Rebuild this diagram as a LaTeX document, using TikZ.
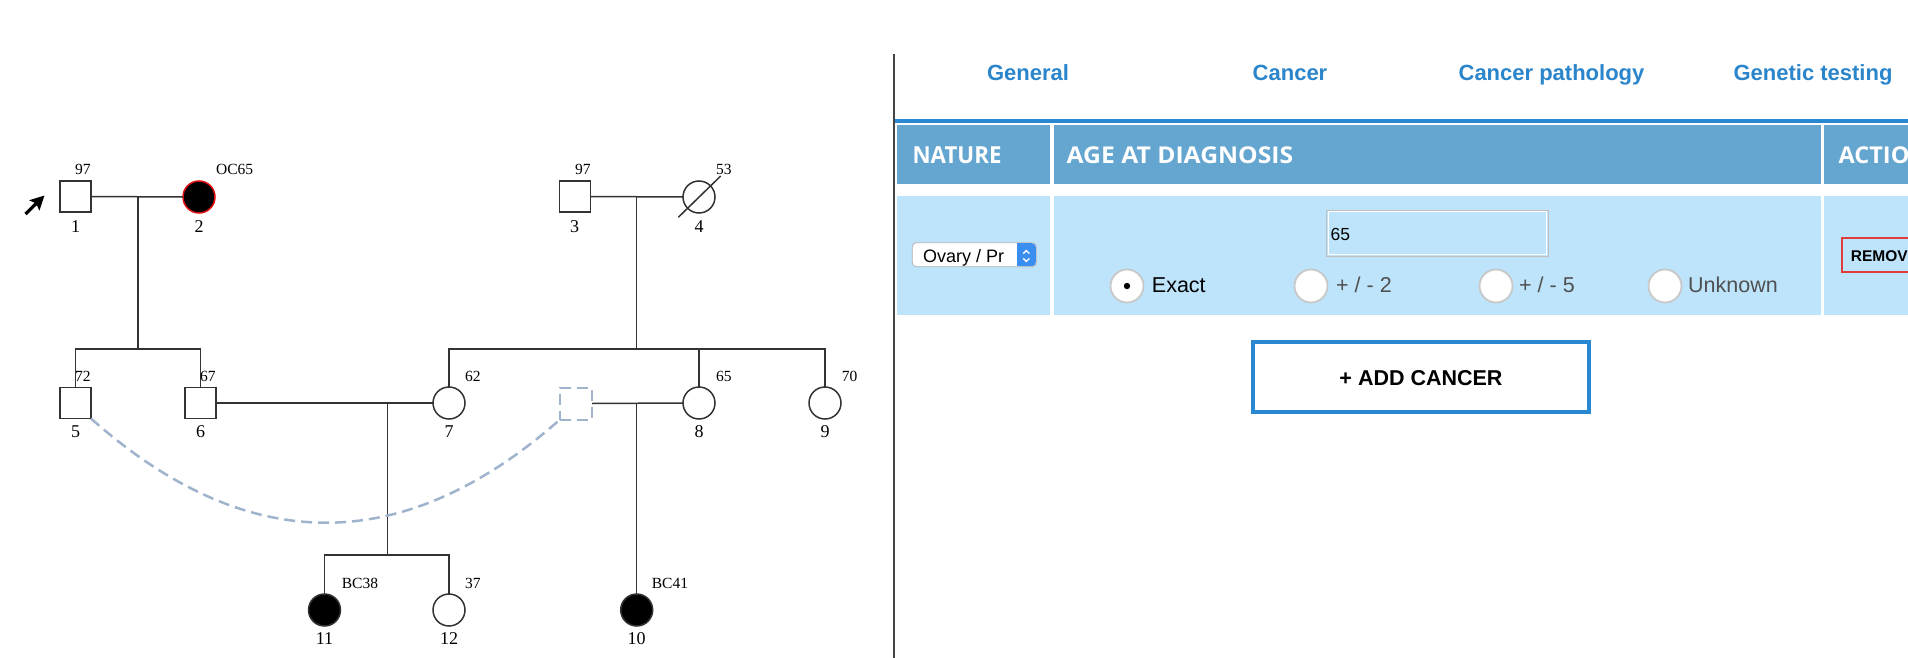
\documentclass[tikz,border=0pt]{standalone}
\usepackage{fontspec}
\setmainfont{Liberation Serif}
\newfontfamily\uisans{Liberation Sans}
\newfontfamily\hdrfont{Open Sans}
\usetikzlibrary{arrows.meta}
\definecolor{pedline}{HTML}{333333}
\definecolor{dashblue}{HTML}{9FB4CC}
\definecolor{tabblue}{HTML}{2A85CB}
\definecolor{hdrblue}{HTML}{64A6CF}
\definecolor{rowblue}{HTML}{BDE4FB}
\definecolor{linkblue}{HTML}{2A88D0}
\definecolor{radiogray}{HTML}{C8C8C8}
\definecolor{selblue}{HTML}{3A8EEF}
\definecolor{remred}{HTML}{E03C3C}
\definecolor{sepgray}{HTML}{444444}
\definecolor{affred}{HTML}{E01010}
\definecolor{optgray}{HTML}{505050}
\newcommand{\hdrbox}[2]{\resizebox{#1}{16.8pt}{\hdrfont\bfseries #2}}
\begin{document}
\begin{tikzpicture}[x=1pt,y=-1pt,
  male/.style={rectangle, draw=pedline, line width=1.5pt, fill=white, minimum size=31pt, inner sep=0pt, outer sep=0pt},
  female/.style={circle, draw=pedline, line width=1.5pt, fill=white, minimum size=32pt, inner sep=0pt, outer sep=0pt},
  affected/.style={fill=black},
  virtual/.style={rectangle, draw=dashblue, line width=2pt, dash pattern=on 11pt off 6pt, fill=white, minimum size=32pt, inner sep=0pt, outer sep=0pt},
  pedl/.style={draw=pedline, line width=1.5pt},
  dashcurve/.style={draw=dashblue, line width=2.5pt, dash pattern=on 11pt off 6pt},
  agel/.style={anchor=base west, inner sep=0pt, font=\fontsize{15.5}{18}\selectfont},
  idl/.style={anchor=base, inner sep=0pt, font=\fontsize{18}{20}\selectfont},
  tabtxt/.style={anchor=base, inner sep=0pt, text=tabblue, font=\uisans\bfseries\fontsize{22}{26}\selectfont},
  hdrtxt/.style={anchor=base west, inner sep=0pt, text=white},
  radio/.style={circle, draw=radiogray, line width=1.8pt, fill=white, minimum size=33pt, inner sep=0pt},
  radiotxt/.style={anchor=base west, inner sep=0pt, font=\uisans\fontsize{21.5}{25}\selectfont},
]
\useasboundingbox (0,0) rectangle (1908,658);
\clip (0,0) rectangle (1908,658);
\fill[white] (0,0) rectangle (1908,658);

% ---------------- pedigree ----------------
\node[male] (n1) at (75.5,196.5) {};
\node[female, affected, draw=affred] (n2) at (199,197) {};
\node[male] (n3) at (575,196.5) {};
\node[female] (n4) at (699,197) {};
\node[male] (n5) at (75.5,403) {};
\node[male] (n6) at (200.5,403) {};
\node[female] (n7) at (449,403) {};
\node[virtual] (nX) at (576,403.5) {};
\node[female] (n8) at (699,403) {};
\node[female] (n9) at (825,403) {};
\node[female, affected] (n11) at (324.5,610) {};
\node[female] (n12) at (449,610) {};
\node[female, affected] (n10) at (636.7,610) {};

% deceased slash
\draw[pedl] ([shift={(-20.7,20.3)}]n4.center) -- ([shift={(21.7,-21)}]n4.center);

% proband arrow
\coordinate (arrtail) at (25.5,214);
\coordinate (arrtip) at (44.5,195.5);
\draw[line width=3.2pt, -{Stealth[length=14pt,width=14pt,inset=2.5pt]}] (arrtail) -- (arrtip);

% couple and sibship lines
\coordinate (m12) at (138,197);
\coordinate (sib1) at (138,349);
\coordinate (m34) at (636.7,197);
\coordinate (sib2) at (636.7,349);
\coordinate (m67) at (387.3,403);
\coordinate (sib3) at (387.3,555);
\coordinate (mX8) at (636.7,403);

\draw[pedl] (n1.east) -- (n2.west);
\draw[pedl] (m12) -- (sib1);
\draw[pedl] (n5.north) |- (sib1) -| (n6.north);

\draw[pedl] (n3.east) -- (n4.west);
\draw[pedl] (m34) -- (sib2);
\draw[pedl] (n7.north) |- (sib2) -| (n9.north);
\draw[pedl] (n8.north) -- (n8.north |- sib2);

\draw[pedl] (n6.east) -- (n7.west);
\draw[pedl] (m67) -- (sib3);
\draw[pedl] (n11.north) |- (sib3) -| (n12.north);

\draw[pedl] (nX.east) -- (n8.west);
\draw[pedl] (mX8) -- (n10.north);

% dashed arc
\draw[dashcurve] (n5.south east) .. controls (247.3,557.3) and (403.7,557.3) .. (nX.south west);

% labels
\node[agel] (a1) at (75,174.3) {97};
\node[agel] (a2) at (216,174.3) {OC65};
\node[agel] (a3) at (575,174.3) {97};
\node[agel] (a4) at (716,174.3) {53};
\node[agel] (a5) at (75,381.2) {72};
\node[agel] (a6) at (200,381.2) {67};
\node[agel] (a7) at (465,381.2) {62};
\node[agel] (a8) at (716,381.2) {65};
\node[agel] (a9) at (841.7,381.2) {70};
\node[agel] (a11) at (341.7,588.5) {BC38};
\node[agel] (a12) at (465,588.5) {37};
\node[agel] (a10) at (651.7,588.5) {BC41};

\node[idl] (i1) at (75.5,232.1) {1};
\node[idl] (i2) at (199,232.1) {2};
\node[idl] (i3) at (574.5,232.1) {3};
\node[idl] (i4) at (699,232.1) {4};
\node[idl] (i5) at (75.5,437.9) {5};
\node[idl] (i6) at (200.5,437.9) {6};
\node[idl] (i7) at (449,437.9) {7};
\node[idl] (i8) at (699,437.9) {8};
\node[idl] (i9) at (825,437.9) {9};
\node[idl] (i11) at (324.5,644.4) {11};
\node[idl] (i12) at (449,644.4) {12};
\node[idl] (i10) at (636.7,644.4) {10};

% ---------------- right panel ----------------
\draw[sepgray, line width=2.5pt] (894,54) -- (894,658);

\node[tabtxt] (t1) at (1028,80.5) {General};
\node[tabtxt] (t2) at (1290,80.5) {Cancer};
\node[tabtxt] (t3) at (1551.5,80.5) {Cancer pathology};
\node[tabtxt] (t4) at (1813,80.5) {Genetic testing};

\fill[linkblue] (895.3,119.4) rectangle (1908,122.7);

% header row
\fill[hdrblue] (897,125) rectangle (1050,184);
\fill[hdrblue] (1054,125) rectangle (1821,184);
\fill[hdrblue] (1824.3,125) rectangle (1908,184);
\node[hdrtxt] (h1) at (912.3,163.3) {\hdrbox{89pt}{NATURE}};
\node[hdrtxt] (h2) at (1066.5,163.3) {\hdrbox{226.5pt}{AGE AT DIAGNOSIS}};
\node[hdrtxt] (h3) at (1838.3,163.3) {\hdrbox{71pt}{ACTIO}};

% body row
\fill[rowblue] (897,195.7) rectangle (1050,315);
\fill[rowblue] (1054,195.7) rectangle (1821,315);
\fill[rowblue] (1824.3,195.7) rectangle (1908,315);

% select
\draw[draw=black!30, line width=0.8pt, fill=white, rounded corners=4pt] (912.3,242.7) rectangle (1036.3,266.7);
\fill[selblue, rounded corners=4pt] (1017,243.2) rectangle (1035.8,266.2);
\fill[selblue] (1017,243.2) rectangle (1026,266.2);
\draw[white, line width=1.3pt] (1023.3,253.6) -- (1026.3,250.6) -- (1029.3,253.6);
\draw[white, line width=1.3pt] (1023.3,258.4) -- (1026.3,261.4) -- (1029.3,258.4);
\node[anchor=base west, inner sep=0pt, font=\uisans\fontsize{18}{21}\selectfont] (sel) at (923,262.5) {Ovary / Pr};

% age input
\draw[draw=black!25, line width=1pt, fill=rowblue] (1326.7,210) rectangle (1548.3,256);
\draw[white, line width=1pt] (1328.2,211.5) rectangle (1546.8,254.5);
\node[anchor=base west, inner sep=0pt, font=\uisans\fontsize{17.5}{21}\selectfont] (age) at (1330.5,240) {65};

% radios
\node[radio] (r1) at (1127,286) {};
\fill[black] (r1.center) circle (3.2pt);
\node[radio] (r2) at (1311,286) {};
\node[radio] (r3) at (1496,286) {};
\node[radio] (r4) at (1665,286) {};
\node[radiotxt] (l1) at (1151.7,292.7) {Exact};
\node[radiotxt, text=optgray] (l2) at (1336,292.7) {+ / - 2};
\node[radiotxt, text=optgray] (l3) at (1519,292.7) {+ / - 5};
\node[radiotxt, text=optgray] (l4) at (1688,292.7) {Unknown};

% remove button
\draw[remred, line width=2.2pt] (1841.8,237.8) rectangle (1920,272.3);
\node[anchor=base west, inner sep=0pt, font=\uisans\bfseries\fontsize{15.5}{18}\selectfont] (rem) at (1850.7,261.7) {REMOV};

% add cancer button
\draw[linkblue, line width=4pt] (1253,342) rectangle (1588.7,412);
\node[anchor=base, inner sep=0pt, font=\uisans\bfseries\fontsize{21.5}{25}\selectfont] (add) at (1421,385.6) {+ ADD CANCER};
\end{tikzpicture}
\end{document}
